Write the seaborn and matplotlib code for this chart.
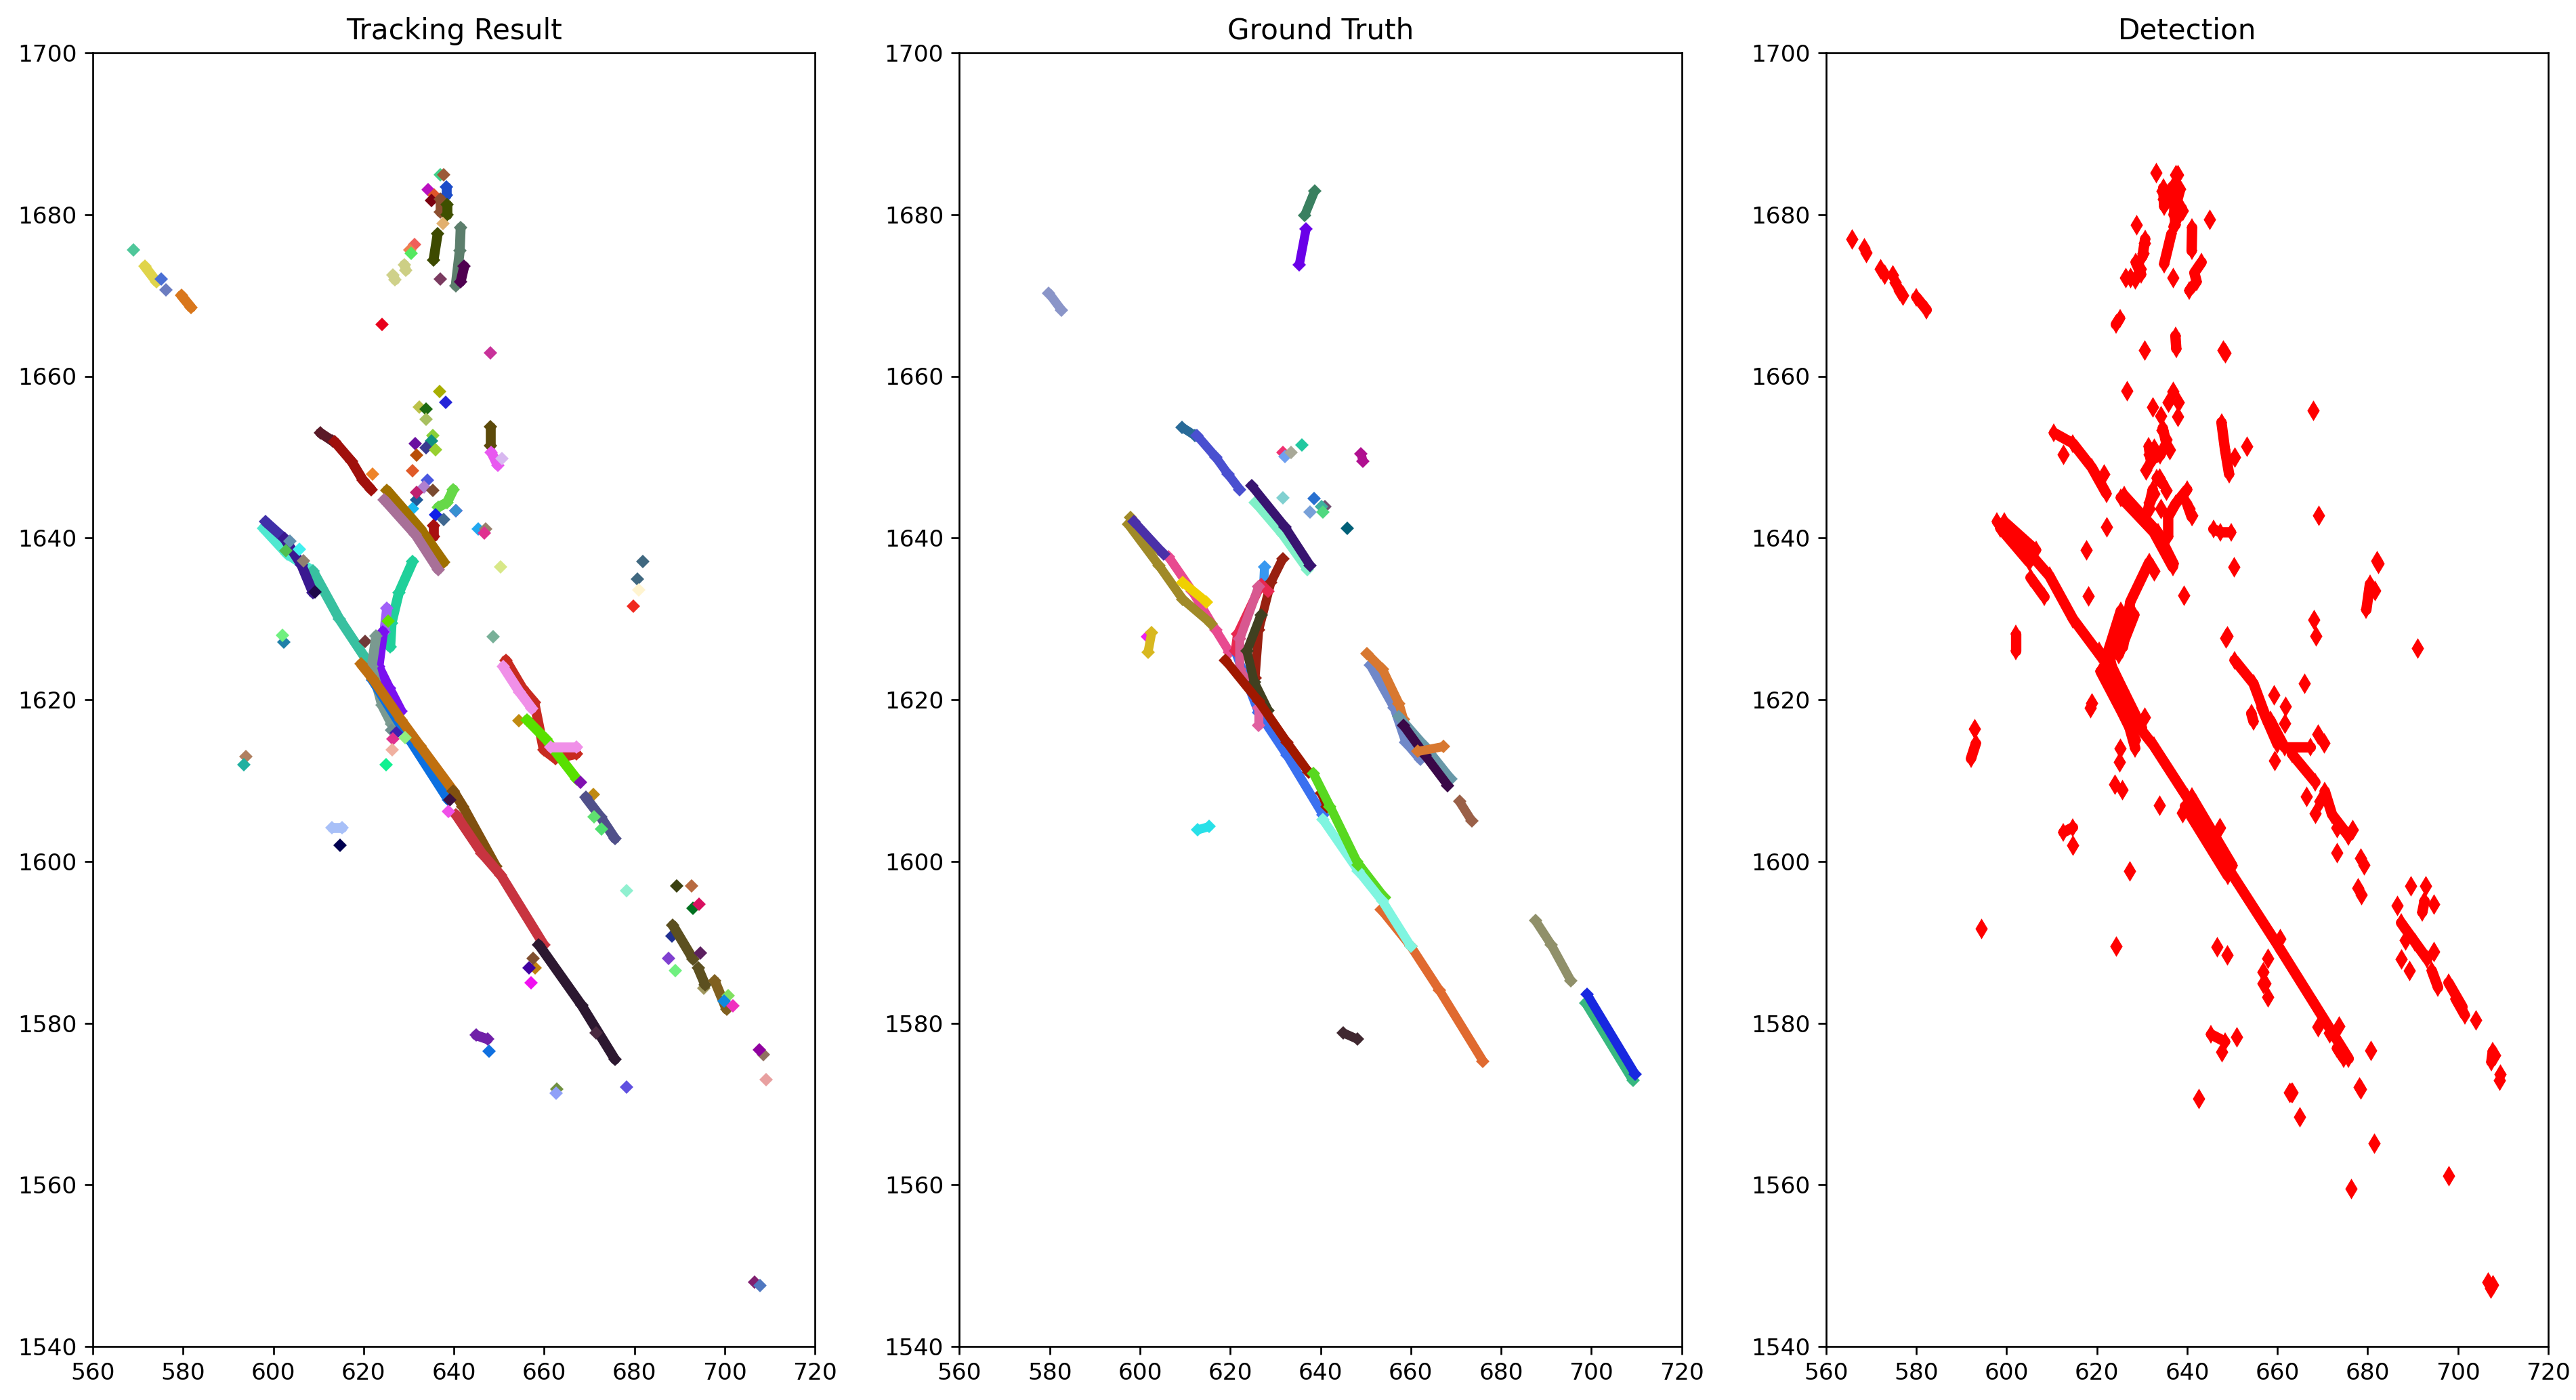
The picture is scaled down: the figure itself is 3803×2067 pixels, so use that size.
#!/usr/bin/env python

"""
Plot tracking result, ground truth and detections side by side.
"""

import matplotlib

matplotlib.use("Agg")
import matplotlib.pyplot as plt
import pandas as pd
import seaborn as sns

titles = ["Tracking Result", "Ground Truth", "Detection"]
x_ticks = [560, 580, 600, 620, 640, 660, 680, 700, 720]
y_ticks = [1540, 1560, 1580, 1600, 1620, 1640, 1660, 1680, 1700]

# tracking result (drawn in this order)
tracking_x = [
    [569.05], [571.5, 574.1], [575.2], [576.2], [579.6, 581.8], [624.1], [648.1],
    [637.0], [637.8], [634.3], [638.3, 638.3], [635.7], [635.0], [637.0, 637.0],
    [638.5, 638.5], [637.6], [636.4, 635.5], [641.5, 641.3, 640.4], [642.3, 641.5], [637.0],
    [631.3], [630.2], [630.6], [629.0, 629.4], [626.5, 627.0],
    [636.8], [638.2], [632.4], [633.9], [633.8], [635.4], [635.1], [631.5], [633.9], [636.0],
    [631.8], [630.8], [622.0], [610.4, 613.1], [613.6, 617.3, 619.9, 621.7],
    [648.1, 648.1], [648.3, 649.7], [650.6],
    [634.1], [633.4], [635.4], [631.7], [631.7], [630.8], [639.9, 638.5, 636.5],
    [640.4], [640.4], [636.0], [637.8], [635.5, 635.5],
    [645.4], [647.0], [646.8], [650.3],
    [625.2, 632.5, 637.8], [624.6, 631.5, 636.5],
    [630.9, 627.8, 626.2, 625.9],
    [597.8, 603.1, 608.8], [608.8, 614.6, 620.9],
    [598.3, 602.5], [602.5, 606.2, 608.8], [609.2],
    [603.6], [602.8], [605.7], [606.7],
    [602.3], [602.0], [648.7],
    [681.8], [680.7], [680.9], [679.7],
    [625.2, 624.6], [624.3, 623.3, 625.7, 628.3], [625.4], [620.4],
    [622.8, 621.8, 624.1, 626.2],
    [622.0, 630.4, 638.8], [619.4, 622.0, 628.3, 632.5, 639.9],
    [639.9, 642.0, 649.3], [640.4, 646.2, 650.4, 659.9],
    [658.8, 668.3, 675.7], [671.5], [639.1], [638.8],
    [626.2], [627.2], [626.5], [629.2], [626.4], [625.0],
    [651.5, 655.2, 657.8, 659.9, 662.5, 667.2],
    [654.4], [656.2, 660.4, 667.2],
    [650.9, 654.6, 657.3], [661.5, 667.2],
    [668.1], [670.9], [669.2, 672.5, 675.7], [671.0], [672.7],
    [593.9], [593.4], [613.0, 615.3], [614.8], [678.2],
    [689.4], [692.7], [693.0], [694.3],
    [688.3], [688.5, 693.0], [694.6], [687.5], [689.0],
    [695.4], [694.1, 695.7], [697.8, 700.4], [700.7], [699.9], [701.8],
    [708.6], [707.6], [709.2], [706.6], [707.8],
    [644.9, 647.5], [647.8], [658.0], [657.6], [656.7], [657.1],
    [662.8], [662.7], [678.2],
]
tracking_y = [
    [1675.6], [1673.6, 1671.7], [1672.0], [1670.7], [1670.0, 1668.5], [1666.4], [1662.9],
    [1684.9], [1684.9], [1683.1], [1683.4, 1682.4], [1682.4], [1681.7], [1681.9, 1680.3],
    [1681.2, 1680.0], [1678.9], [1677.6, 1674.4], [1678.4, 1675.5, 1671.2], [1673.6, 1671.7], [1672.0],
    [1676.3], [1675.6], [1675.2], [1673.8, 1673.1], [1672.5, 1671.9],
    [1658.1], [1656.8], [1656.2], [1655.9], [1654.7], [1652.7], [1652.0], [1651.7], [1651.2], [1650.9],
    [1650.2], [1648.3], [1647.9], [1653.0, 1652.0], [1651.9, 1649.5, 1647.1, 1646.0],
    [1653.8, 1651.4], [1650.6, 1649.0], [1649.8],
    [1647.1], [1646.3], [1645.9], [1644.7], [1645.6], [1643.6], [1646.0, 1644.4, 1643.8],
    [1643.4], [1643.4], [1642.9], [1642.3], [1641.5, 1640.2],
    [1641.1], [1641.1], [1640.6], [1636.4],
    [1645.9, 1641.2, 1637.0], [1644.7, 1640.4, 1636.1],
    [1637.1, 1633.2, 1629.5, 1626.5],
    [1641.2, 1638.0, 1635.9], [1635.9, 1630.0, 1624.7],
    [1642.0, 1639.9], [1639.9, 1636.7, 1633.2], [1633.3],
    [1639.6], [1638.4], [1638.6], [1637.2],
    [1627.1], [1628.0], [1627.8],
    [1637.1], [1634.9], [1633.6], [1631.6],
    [1631.3, 1628.4], [1628.4, 1624.1, 1621.4, 1618.6], [1629.7], [1627.2],
    [1627.9, 1624.1, 1619.3, 1617.0],
    [1622.4, 1614.9, 1607.6], [1624.4, 1622.6, 1617.5, 1614.3, 1608.7],
    [1608.7, 1606.8, 1599.4], [1605.8, 1601.0, 1598.3, 1589.7],
    [1589.7, 1582.2, 1575.5], [1578.8], [1607.6], [1606.2],
    [1616.2], [1615.9], [1615.1], [1615.3], [1613.8], [1612.0],
    [1624.9, 1621.4, 1619.7, 1613.8, 1612.7, 1613.3],
    [1617.4], [1617.5, 1615.1, 1610.2],
    [1624.1, 1620.9, 1618.9], [1614.1, 1614.1],
    [1609.8], [1608.3], [1607.9, 1605.5, 1602.8], [1605.5], [1604.0],
    [1613.0], [1612.0], [1604.2, 1604.2], [1602.0], [1596.4],
    [1597.0], [1597.0], [1594.2], [1594.7],
    [1590.8], [1592.1, 1587.9], [1588.7], [1588.0], [1586.5],
    [1584.3], [1586.8, 1584.7], [1585.2, 1581.7], [1583.4], [1582.7], [1582.1],
    [1576.1], [1576.7], [1573.0], [1548.0], [1547.5],
    [1578.5, 1578.0], [1576.5], [1586.8], [1588.0], [1586.8], [1585.0],
    [1571.8], [1571.3], [1572.1],
]
tracking_colors = [
    "#4fc79a", "#e0d44a", "#4a6fd4", "#6b7cc0", "#d9771c", "#e8001c", "#c8329a",
    "#3fd08a", "#9c5a38", "#bb10c0", "#1c4cc8", "#e0552a", "#7a0010", "#8c4f30",
    "#3f5000", "#e2b06e", "#3d4a00", "#5c7e6c", "#4f0050", "#7a3a60",
    "#f0605a", "#ee7f50", "#55e860", "#cdcf85", "#cfd18a",
    "#a8ae00", "#2424d8", "#bcc24a", "#1d6a10", "#a8c060", "#88d038", "#109080",
    "#6a10a0", "#3a3a90", "#98d030",
    "#b85008", "#e05a28", "#ee8428", "#5a1a28", "#a0100c",
    "#5c4a0a", "#e858f0", "#d8b8f0",
    "#4a58e0", "#b080d0", "#7a4a30", "#205a98", "#c02070", "#18b8f0", "#66d848",
    "#a010f0", "#3890d0", "#1020e8", "#406890", "#a81010",
    "#20a8f0", "#98806a", "#e03090", "#d8e888",
    "#a07000", "#a87098",
    "#1fd09a",
    "#50e8d0", "#38c0a0",
    "#4030a8", "#3a1890", "#20084a",
    "#6090b0", "#50c050", "#40f0f0", "#908070",
    "#2080a8", "#70f080", "#78b098",
    "#406880", "#406880", "#fff4d0", "#f02a20",
    "#a060f8", "#7a10f0", "#60e000", "#703838",
    "#7a9a90",
    "#0c70e0", "#c07010",
    "#80500f", "#c83440",
    "#2c1830", "#4a2a40", "#3a1040", "#f050e8",
    "#709090", "#4020b0", "#e03090", "#90f080", "#f0b0a0", "#10f090",
    "#c82a20",
    "#c08a10", "#58e000",
    "#f090e8", "#f090e8",
    "#8010b0", "#c08a10", "#50508a", "#60e070", "#50e070",
    "#b08060", "#20b0a0", "#a8c0f8", "#000050", "#90f0d0",
    "#3a4010", "#b86a40", "#007020", "#d81060",
    "#203090", "#5c5020", "#5c2060", "#8040d0", "#70f080",
    "#a09860", "#5c5020", "#806020", "#80e060", "#1088e0", "#f030c0",
    "#907060", "#9000a0", "#e8a0a0", "#802070", "#5078c0",
    "#7020a8", "#1070e0", "#c08010", "#805030", "#4000a0", "#f010f0",
    "#709040", "#90a0f8", "#6050e0",
]

# ground truth tracks
truth_x = [
    [638.7, 636.5], [636.8, 635.3], [579.8, 582.6],
    [609.3, 612.1], [612.6, 616.8, 619.5, 622.1],
    [625.5, 631.6, 637.1], [624.7, 632.1, 637.7],
    [631.6], [632.1], [633.5], [635.9], [649.0, 649.4],
    [631.7], [638.6], [637.6], [641.0], [640.2], [640.5], [646.0],
    [606.3, 611.6, 616.8, 619.8], [597.4, 604.2, 609.5, 615.8],
    [597.9, 604.0], [609.5, 614.7], [598.7, 605.3],
    [601.6], [602.6, 601.8],
    [627.6, 627.4], [631.6, 629.0, 626.3, 625.5],
    [621.1, 626.3, 632.6, 640.5], [628.4, 626.8, 621.6, 621.1],
    [626.3, 622.1, 622.1, 625.3], [626.8, 623.7, 625.3, 628.4],
    [626.3, 626.3], [618.9, 626.3, 632.6, 637.4], [640.2, 641.5],
    [648.0, 654.2],
    [653.5, 660.0, 666.3, 676.0],
    [640.5, 648.4, 653.7, 660.0], [638.4, 642.1, 648.4],
    [612.8, 615.3], [670.8, 673.5], [645.0, 648.2],
    [687.6, 691.1, 695.5], [698.7, 709.2], [699.0, 709.7],
    [651.0, 656.3, 658.9, 662.1], [650.3, 653.7, 657.4, 658.4],
    [657.4, 663.2, 668.9], [658.4, 663.2, 668.2], [661.6, 667.2],
]
truth_y = [
    [1682.9, 1679.9], [1678.2, 1673.8], [1670.3, 1668.2],
    [1653.7, 1652.7], [1652.7, 1650.0, 1647.9, 1646.0],
    [1644.4, 1640.4, 1636.1], [1646.5, 1641.4, 1636.6],
    [1650.6], [1650.1], [1650.6], [1651.5], [1650.4, 1649.5],
    [1645.0], [1644.9], [1643.2], [1643.9], [1643.9], [1643.2], [1641.2],
    [1637.7, 1633.4, 1628.6, 1625.9], [1641.7, 1636.6, 1632.4, 1629.4],
    [1642.5, 1638.6], [1634.5, 1632.1], [1642.0, 1638.0],
    [1627.8], [1628.3, 1625.9],
    [1636.4, 1634.2], [1637.4, 1634.5, 1628.6, 1622.7],
    [1626.0, 1618.4, 1613.1, 1605.8], [1633.4, 1634.2, 1628.1, 1626.0],
    [1634.0, 1627.5, 1623.8, 1620.6], [1630.5, 1626.0, 1622.2, 1618.7],
    [1619.0, 1616.8], [1624.9, 1619.8, 1614.7, 1611.0], [1608.4, 1606.8],
    [1600.0, 1595.5],
    [1594.0, 1589.5, 1584.1, 1575.3],
    [1605.2, 1598.8, 1595.1, 1589.5], [1610.9, 1606.8, 1599.6],
    [1603.9, 1604.3], [1607.4, 1605.0], [1578.8, 1578.0],
    [1592.7, 1589.7, 1585.2], [1582.5, 1572.9], [1583.6, 1573.7],
    [1624.3, 1619.0, 1614.7, 1612.6], [1625.7, 1623.8, 1619.5, 1617.6],
    [1617.9, 1614.2, 1610.2], [1616.8, 1613.1, 1609.4], [1613.6, 1614.2],
]
truth_colors = [
    "#3a8060", "#6a00e8", "#8a95c8",
    "#286a98", "#4a50d0",
    "#80f0c8", "#381470",
    "#f03070", "#70a0f0", "#a8a898", "#20c8a0", "#b01090",
    "#80d0d0", "#2870d0", "#78a0d8", "#705070", "#40b0a0", "#50d880", "#006078",
    "#e84a90", "#a08a28",
    "#a08a28", "#f0d000", "#4a30a8",
    "#f020f0", "#d8b820",
    "#3898f0", "#982010",
    "#3a70f0", "#e82850",
    "#d85890", "#404020",
    "#e060a0", "#a01800", "#a01800",
    "#58d820",
    "#e06a30",
    "#80f5e0", "#58d820",
    "#28e0e8", "#9a6048", "#402830",
    "#90906a", "#38b880", "#1828e0",
    "#7088c8", "#d87830",
    "#6898a8", "#3a0848", "#d87830",
]

# detections: connected runs of points
detection_x = [
    [580.0, 582.3], [636.8, 637.4], [636.5, 634.9], [641.1, 641.0],
    [643.2, 641.6, 642.1, 640.5], [624.2, 625.1], [637.4, 637.6],
    [647.6, 648.4, 649.3], [640.0, 637.4, 635.8, 635.8],
    [645.8, 647.4, 649.7], [680.5, 679.7], [602.1, 602.1],
    [610.5, 614.7, 618.9, 622.1],
    [597.9, 605.3, 609.5, 614.7, 621.1], [598.6, 605.0],
    [625.3, 632.6, 636.8], [631.6, 627.4, 625.8],
    [620.5, 623.7, 627.4], [625.3, 622.5, 624.2],
    [622.1, 627.4, 632.6, 640.0, 649.5, 660.0, 668.4, 675.8],
    [650.5, 654.7, 657.9], [658.4, 661.6, 667.4], [663.2, 668.4],
    [670.5, 672.1, 675.8], [654.2, 654.7], [593.2, 592.1], [612.6, 614.7],
    [692.6, 692.1], [687.4, 690.5, 693.2], [694.2, 695.6], [697.9, 701.0],
    [673.2, 674.7], [645.3, 648.4], [707.7, 707.4],
    [599.5, 606.5], [605.3, 608.4],
    [620.5, 624.0, 629.0], [622.5, 626.0, 630.0], [620.8, 625.5, 628.6], [626.5, 628.5],
    [627.5, 623.5], [628.3, 624.8], [626.0, 633.5, 637.0],
    [639.5, 649.0], [641.0, 650.0], [699.5, 701.5], [656.5, 660.0],
    [634.7, 634.9], [638.4, 637.0], [638.8, 637.0], [630.7, 630.1], [628.6, 629.8],
    [634.6, 635.4, 634.0, 632.0], [631.5, 632.0], [633.3, 634.7], [632.4, 631.3],
    [640.0, 641.0],
]
detection_y = [
    [1669.8, 1668.2], [1683.5, 1678.7], [1677.6, 1673.9], [1678.4, 1675.5],
    [1674.1, 1672.8, 1671.7, 1670.6], [1666.4, 1667.2], [1665.0, 1663.4],
    [1654.3, 1650.9, 1647.9], [1646.0, 1644.2, 1642.6, 1640.2],
    [1641.1, 1640.7, 1640.7], [1634.3, 1631.1], [1628.1, 1626.0],
    [1653.0, 1651.7, 1648.7, 1645.5],
    [1642.0, 1638.0, 1635.3, 1630.0, 1625.2], [1641.2, 1637.0],
    [1645.0, 1640.7, 1636.4], [1637.0, 1632.1, 1626.5],
    [1625.7, 1623.6, 1618.2], [1631.0, 1626.0, 1622.0],
    [1622.6, 1618.0, 1614.3, 1607.9, 1598.8, 1589.7, 1582.2, 1575.6],
    [1624.9, 1622.0, 1617.2], [1617.5, 1614.1, 1614.1], [1613.3, 1609.8],
    [1608.7, 1605.8, 1603.1], [1618.3, 1617.3], [1614.6, 1612.7], [1603.6, 1604.2],
    [1595.1, 1593.7], [1592.4, 1590.0, 1587.9], [1586.5, 1584.4], [1585.0, 1582.0],
    [1576.9, 1575.6], [1578.6, 1577.7], [1576.5, 1575.2],
    [1642.0, 1638.5], [1635.1, 1632.7],
    [1626.0, 1622.5, 1617.5], [1625.0, 1621.0, 1616.5], [1623.5, 1618.5, 1615.0], [1618.0, 1614.0],
    [1631.0, 1626.0], [1630.5, 1625.5], [1645.3, 1640.7, 1636.8],
    [1606.8, 1598.2], [1608.0, 1599.5], [1583.0, 1581.0], [1619.0, 1614.5],
    [1683.3, 1681.0], [1683.0, 1680.0], [1680.8, 1678.5], [1677.0, 1674.8], [1674.1, 1672.6],
    [1653.6, 1651.7, 1650.2, 1649.6], [1651.3, 1649.4], [1647.4, 1646.6], [1646.0, 1643.4],
    [1644.2, 1642.6],
]

# detections: scattered single points
single_x = [
    565.8, 568.4, 568.9, 572.1, 572.9, 574.7, 575.4, 576.3, 577.0, 633.1, 637.4, 637.9, 634.5, 634.7,
    638.4, 637.8, 638.9, 645.0, 628.8, 630.5, 630.3, 629.7, 627.4, 626.3, 628.4,
    636.8, 630.5, 647.9, 648.4, 626.6, 636.8, 635.8, 638.1, 632.3, 634.2, 637.9,
    667.9, 650.5, 653.2, 634.4, 635.3, 636.1, 632.6, 631.6, 632.1, 630.8, 621.6,
    612.6, 633.9, 632.6, 635.3, 631.6, 631.6, 640.5, 641.0, 634.2, 622.2, 617.7,
    669.2, 650.3, 632.6, 682.1, 682.4, 681.6, 618.1, 639.3, 648.6, 648.9, 668.1,
    668.6, 691.1, 666.0, 659.2, 661.8, 661.6, 618.9, 618.6, 630.5, 669.0, 670.4,
    659.4, 625.0, 625.2, 623.9, 625.6, 633.9, 639.0, 647.2, 666.5, 668.4, 669.5,
    673.2, 676.6, 673.2, 678.4, 679.2, 677.9, 678.6, 592.9, 594.4, 614.7, 627.2,
    624.2, 646.6, 648.9, 660.5, 657.9, 656.8, 656.8, 657.2, 657.9, 686.6, 689.5,
    692.8, 694.7, 688.4, 694.7, 687.4, 689.2, 704.0, 669.0, 673.7, 671.6, 651.0,
    647.7, 680.7, 678.1, 678.4, 642.6, 662.9, 663.3, 662.6, 664.9, 681.4, 697.9,
    676.3, 708.2, 709.3, 709.2, 706.6, 707.7, 707.3,
]
single_y = [
    1677.0, 1675.9, 1675.3, 1673.3, 1672.6, 1672.5, 1671.6, 1670.6, 1670.0, 1685.2, 1684.9, 1684.9, 1682.9, 1681.9,
    1683.2, 1680.3, 1680.5, 1679.4, 1678.7, 1676.5, 1675.2, 1673.3, 1672.2, 1672.2, 1672.0,
    1672.2, 1663.2, 1663.2, 1662.9, 1658.2, 1658.1, 1656.8, 1656.8, 1656.2, 1655.1, 1655.0,
    1655.8, 1650.0, 1651.3, 1653.3, 1652.2, 1650.9, 1651.1, 1650.3, 1649.8, 1648.4, 1647.9,
    1650.3, 1647.4, 1645.5, 1645.9, 1644.4, 1643.6, 1643.6, 1642.8, 1643.6, 1641.4, 1638.5,
    1642.8, 1636.4, 1635.9, 1637.2, 1636.8, 1633.5, 1632.8, 1632.9, 1627.6, 1627.9, 1629.9,
    1627.9, 1626.4, 1622.0, 1620.6, 1619.2, 1617.1, 1619.6, 1619.0, 1617.8, 1615.7, 1614.6,
    1612.5, 1612.3, 1614.0, 1609.5, 1608.9, 1606.9, 1606.0, 1604.2, 1608.0, 1605.9, 1607.4,
    1604.2, 1603.9, 1601.1, 1600.4, 1599.6, 1596.7, 1595.9, 1616.4, 1591.7, 1602.0, 1598.8,
    1589.5, 1589.4, 1588.4, 1590.4, 1588.0, 1586.3, 1584.9, 1584.9, 1583.2, 1594.5, 1597.0,
    1597.0, 1594.7, 1590.3, 1588.8, 1587.9, 1586.5, 1580.4, 1579.5, 1579.6, 1578.8, 1578.3,
    1576.4, 1576.6, 1572.1, 1571.8, 1570.7, 1571.4, 1571.4, 1571.4, 1568.4, 1565.1, 1561.1,
    1559.5, 1576.0, 1573.7, 1572.9, 1548.0, 1547.6, 1547.2,
]

RED = "#ff0000"


def draw_tracks(ax, xs, ys, colors, marker, markersize, linewidth):
    """Draw each track in order, as a thick line of diamonds."""
    rows = []
    for i, (tx, ty) in enumerate(zip(xs, ys)):
        for x, y in zip(tx, ty):
            rows.append((i, x, y))
    df = pd.DataFrame(rows, columns=["track", "x", "y"])
    sns.lineplot(
        data=df,
        x="x",
        y="y",
        hue="track",
        palette=dict(enumerate(colors)),
        estimator=None,
        sort=False,
        marker=marker,
        markersize=markersize,
        markeredgewidth=0,
        linewidth=linewidth,
        solid_capstyle="round",
        legend=False,
        ax=ax,
    )


def main():
    fig, axes = plt.subplots(1, 3, figsize=(3803 / 240, 2067 / 240), dpi=240)

    draw_tracks(axes[0], tracking_x, tracking_y, tracking_colors, "D", 4.4, 4.4)
    draw_tracks(axes[1], truth_x, truth_y, truth_colors, "D", 4.2, 4.0)
    draw_tracks(axes[2], detection_x, detection_y, [RED] * len(detection_x), "d", 6, 4.6)
    sns.scatterplot(
        x=single_x, y=single_y, color=RED, marker="d", s=42, linewidth=0, ax=axes[2]
    )

    for ax, title in zip(axes, titles):
        ax.set_xlim(560, 720)
        ax.set_ylim(1540, 1700)
        ax.set_xticks(x_ticks)
        ax.set_yticks(y_ticks)
        ax.tick_params(labelsize=10.3)
        ax.set_xlabel("")
        ax.set_ylabel("")
        ax.set_title(title, fontsize=12.6)

    fig.subplots_adjust(
        left=137 / 3803, right=3762 / 3803, top=1 - 78 / 2067, bottom=1 - 1988 / 2067,
        wspace=0.2,
    )
    fig.savefig("out.png", dpi=240)


if __name__ == "__main__":
    main()
